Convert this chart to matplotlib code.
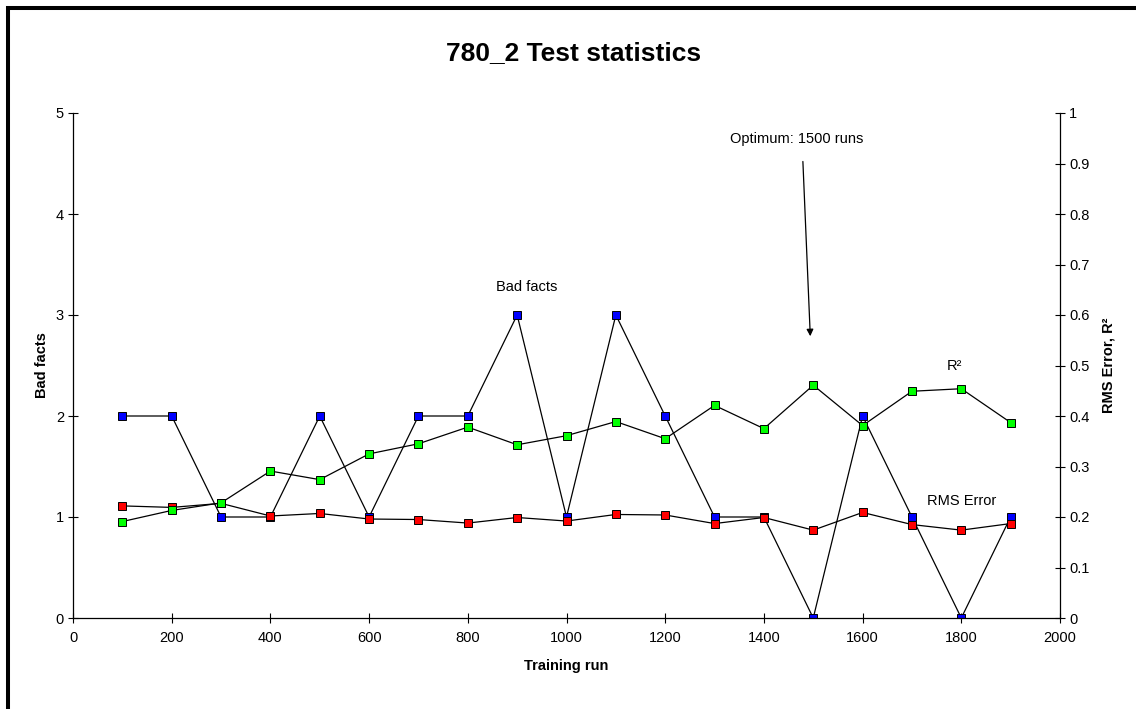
import matplotlib
matplotlib.use('Agg')
import matplotlib.pyplot as plt
from matplotlib.patches import Rectangle

plt.rcParams['font.family'] = ['Liberation Sans', 'DejaVu Sans']

# data
runs = [100, 200, 300, 400, 500, 600, 700, 800, 900, 1000,
        1100, 1200, 1300, 1400, 1500, 1600, 1700, 1800, 1900]
bad_facts = [2, 2, 1, 1, 2, 1, 2, 2, 3, 1, 3, 2, 1, 1, 0, 2, 1, 0, 1]
rms_error = [0.222, 0.219, 0.227, 0.202, 0.207, 0.196, 0.195, 0.188, 0.199, 0.192,
             0.205, 0.204, 0.187, 0.199, 0.174, 0.209, 0.185, 0.174, 0.187]
r_squared = [0.191, 0.213, 0.228, 0.291, 0.274, 0.325, 0.345, 0.378, 0.343, 0.361,
             0.389, 0.355, 0.421, 0.375, 0.461, 0.381, 0.449, 0.454, 0.387]

x_ticks = list(range(0, 2001, 200))
left_ticks = [0, 1, 2, 3, 4, 5]
right_ticks = [0, 0.1, 0.2, 0.3, 0.4, 0.5, 0.6, 0.7, 0.8, 0.9, 1]
right_labels = ['0', '0.1', '0.2', '0.3', '0.4', '0.5', '0.6', '0.7', '0.8', '0.9', '1']

W, H = 1136, 709
fig = plt.figure(figsize=(W / 100, H / 100), dpi=100)
ax = fig.add_axes([73 / W, 1 - 618 / H, (1060 - 73) / W, (618 - 113) / H])
ax2 = ax.twinx()

mk = dict(marker='s', markersize=5.4, markeredgecolor='black', markeredgewidth=0.7,
          color='black', linewidth=0.9)
ax.plot(runs, bad_facts, markerfacecolor='#0000ff', **mk)
ax2.plot(runs, rms_error, markerfacecolor='#ff0000', **mk)
ax2.plot(runs, r_squared, markerfacecolor='#00ff00', **mk)

ax.set_xlim(0, 2000)
ax.set_ylim(0, 5)
ax2.set_ylim(0, 1)
ax.set_xticks(x_ticks)
ax.set_yticks(left_ticks)
ax2.set_yticks(right_ticks)
ax2.set_yticklabels(right_labels)

for a in (ax, ax2):
    a.spines['top'].set_visible(False)
    a.tick_params(direction='inout', length=7, width=0.8, labelsize=10.5, pad=3)
    for s in a.spines.values():
        s.set_linewidth(0.9)
ax.tick_params(axis='x', pad=6)
ax.spines['right'].set_visible(False)
ax2.spines['left'].set_visible(False)
ax2.spines['bottom'].set_visible(False)

ax.set_xlabel('Training run', fontsize=10.5, fontweight='bold', labelpad=10)
ax.set_ylabel('Bad facts', fontsize=10.5, fontweight='bold', labelpad=5)
ax2.set_ylabel('RMS Error, R²', fontsize=10.5, fontweight='bold', labelpad=9)

# text notes on the chart (on top of every line)
notes = dict(fontsize=10.5, ha='center', va='center', transform=ax.transData)
ax2.text(920, 3.28, 'Bad facts', **notes)
ax2.text(1787, 2.5, 'R²', **notes)
ax2.text(1800, 1.16, 'RMS Error', **notes)
ax2.text(1467, 4.74, 'Optimum: 1500 runs', **notes)
ax.annotate('', xy=(1494, 2.79), xytext=(1479, 4.52),
            arrowprops=dict(arrowstyle='-|>', color='black', lw=0.9,
                            mutation_scale=10, shrinkA=0, shrinkB=0))

fig.text(574 / W, 1 - 53 / H, '780_2 Test statistics', fontsize=19,
         fontweight='bold', ha='center', va='center')

# frame around the chart, cut off at right and bottom
fig.patches.append(Rectangle((8 / W, -0.1), 1.2, 1.1 - 8 / H,
                             transform=fig.transFigure, fill=False,
                             edgecolor='black', linewidth=2.9))

fig.savefig('out.png', dpi=100)
